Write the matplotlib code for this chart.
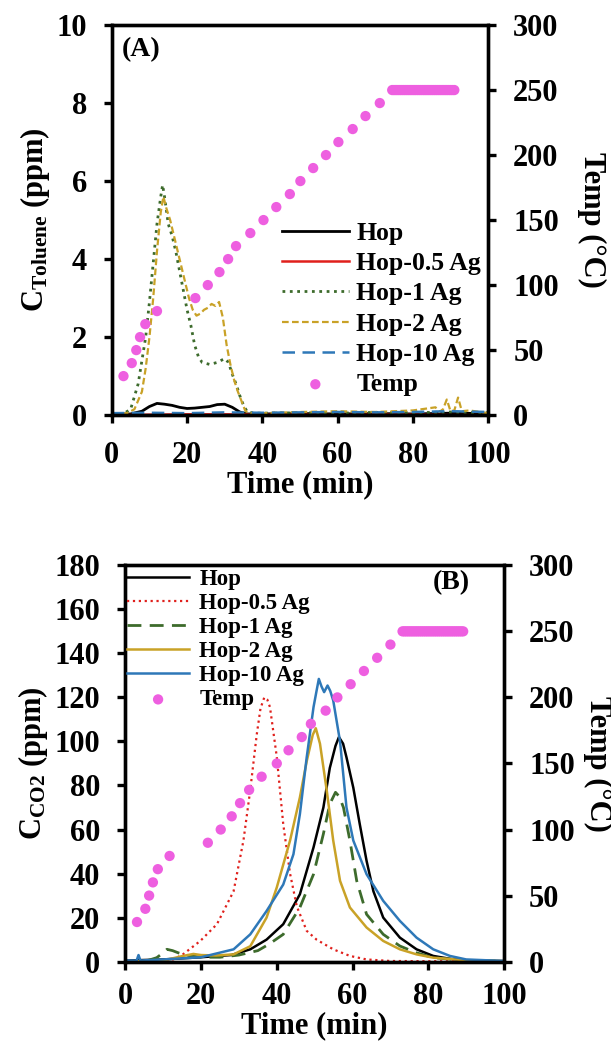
import matplotlib
matplotlib.use("Agg")
import matplotlib.pyplot as plt

plt.rcParams['font.family'] = ['Liberation Serif', 'DejaVu Serif']
plt.rcParams['font.weight'] = 'bold'
plt.rcParams['mathtext.fontset'] = 'custom'
plt.rcParams['mathtext.rm'] = 'Liberation Serif:bold'
plt.rcParams['mathtext.bf'] = 'Liberation Serif:bold'
plt.rcParams['mathtext.it'] = 'Liberation Serif:bold'

# ---------------- panel A : toluene ----------------
tA_hop = [0, 5, 8, 10, 12, 14, 16, 18, 20, 22, 24, 26, 28, 30, 32, 34, 36, 40, 50, 60, 70, 80, 90, 100]
cA_hop = [0.02, 0.03, 0.1, 0.22, 0.3, 0.28, 0.25, 0.2, 0.17, 0.18, 0.2, 0.22, 0.27, 0.28, 0.2, 0.08,
          0.03, 0.03, 0.04, 0.03, 0.04, 0.03, 0.05, 0.04]
tA_05 = [0, 10, 20, 30, 40, 50, 60, 70, 80, 90, 100]
cA_05 = [0.0, 0.01, 0.02, 0.02, 0.01, 0.01, 0.0, 0.01, 0.01, 0.0, 0.0]
tA_1 = [0, 3, 5, 7, 9, 10, 11, 12, 13, 13.5, 14, 15, 16, 17, 18, 19, 20, 21, 22, 23, 24, 26, 28,
        29, 30, 31, 32, 33, 34, 35, 36, 38, 40, 50, 60, 70, 80, 90, 100]
cA_1 = [0.02, 0.03, 0.15, 0.8, 2.0, 2.9, 3.9, 4.9, 5.6, 5.9, 5.6, 4.9, 4.6, 4.2, 3.7, 3.2, 2.7, 2.3,
        1.8, 1.5, 1.35, 1.3, 1.35, 1.4, 1.45, 1.35, 1.05, 0.8, 0.5, 0.25, 0.08, 0.05, 0.05, 0.06,
        0.05, 0.07, 0.06, 0.08, 0.06]
tA_2 = [0, 4, 6, 8, 9, 10, 11, 12, 13, 13.7, 14.5, 15.5, 16.5, 17.5, 18.5, 19.5, 20.5, 21.5, 22.5,
        23.5, 24.5, 25.5, 26.5, 27.5, 28.5, 29.5, 30.5, 31.5, 32.5, 33.5, 34.5, 35.5, 37, 40, 50,
        60, 70, 80, 86, 87, 88, 89, 90, 91, 92, 93, 95, 100]
cA_2 = [0.03, 0.05, 0.15, 0.6, 1.2, 2.0, 3.0, 4.2, 5.2, 5.6, 5.3, 5.0, 4.6, 4.2, 3.8, 3.4, 3.0, 2.7,
        2.55, 2.6, 2.7, 2.75, 2.85, 2.8, 2.9, 2.5, 1.8, 1.3, 0.9, 0.6, 0.35, 0.1, 0.05, 0.05, 0.08,
        0.1, 0.08, 0.12, 0.2, 0.08, 0.15, 0.4, 0.1, 0.12, 0.45, 0.1, 0.12, 0.05]
tA_10 = [0, 10, 20, 30, 40, 50, 60, 70, 80, 90, 100]
cA_10 = [0.05, 0.06, 0.05, 0.07, 0.06, 0.07, 0.08, 0.07, 0.08, 0.1, 0.08]

tempA_t = [3.1, 5.3, 6.5, 7.5, 8.9, 12, 22.2, 25.5, 28.6, 30.9, 33, 36.8, 40.3, 43.7, 47.3, 50.1,
           53.5, 56.9, 60.2, 64, 67.4, 71.2,
           74.5, 75, 75.5, 76, 76.5, 77, 77.5, 78, 78.5, 79, 79.5, 80, 80.5, 81, 81.5, 82, 82.5,
           83, 83.5, 84, 84.5, 85, 85.5, 86, 86.5, 87, 87.5, 88, 88.5, 89, 89.5, 90, 90.5, 91]
tempA_T = [30, 40, 50, 60, 70, 80, 90, 100, 110, 120, 130, 140, 150, 160, 170, 180, 190, 200, 210,
           220, 230, 240] + [250] * 34

# ---------------- panel B : CO2 ----------------
tB_hop = [0, 10, 20, 28, 33, 37.3, 41.7, 46.1, 49.7, 52.3, 54, 55.5, 56.4, 57.5, 58.4, 60.2, 61.9,
          63.7, 65.5, 68.1, 72.5, 76.9, 81.3, 86, 90, 100]
cB_hop = [0.5, 1, 2, 3, 5.6, 10, 17, 30.6, 51.9, 70, 88, 98, 102, 99, 92.8, 79, 62.5, 45.8, 32,
          20, 10.9, 5.6, 2.6, 1.2, 0.6, 0.3]
tB_05 = [0, 10, 12, 15, 19.8, 24.2, 28.6, 31.2, 33, 34.7, 35.7, 36.7, 37.5, 38.2, 40, 41.7, 43.5,
         45.3, 47.9, 50.5, 54.9, 59.3, 63.7, 70, 100]
cB_05 = [0, 0, 0.5, 3, 9.4, 17, 32, 55, 78, 103, 115, 120, 119, 115.6, 93, 62.5, 40, 25, 14, 10,
         5.6, 2.6, 1, 0.3, 0]
tB_1 = [0, 5, 8.3, 10, 11, 12.5, 14, 16, 20, 25, 30, 35, 38, 41.7, 46.1, 49.7, 52.3, 54, 55.5,
        56.5, 57.6, 59.3, 61.1, 63.7, 68.1, 72.5, 76.9, 81.3, 90, 100]
cB_1 = [0, 0, 1.8, 4, 5.6, 5, 4, 3, 2, 2, 3, 5, 8, 12.4, 24.6, 39.7, 58, 71.6, 76.9, 75, 70, 55,
        36.7, 21.5, 12.4, 7.1, 4, 1.8, 0.5, 0.2]
tB_2 = [0, 10, 15, 18, 20, 24, 28.6, 33, 37.3, 40, 43.5, 46.1, 47.9, 49.5, 50.3, 51.4, 53.2, 54.9,
        56.7, 59.3, 63.7, 68.1, 72.5, 76.9, 81.3, 90, 100]
cB_2 = [0, 0.5, 2.5, 3.5, 3, 2.8, 3.3, 7, 20, 33.7, 55, 74.6, 91, 103, 106, 99, 77.6, 55, 36.7,
        24.6, 15.5, 9.4, 5.6, 3.3, 1.8, 0.6, 0.2]
tB_10 = [0, 3, 3.5, 4, 10, 20, 28.6, 33, 37.3, 41.7, 44.4, 46.1, 47.9, 49.7, 50.5, 51.1, 51.8,
         52.5, 53.4, 54.1, 54.9, 56.7, 58.4, 60.2, 63.7, 68.1, 72.5, 76.9, 81.3, 85.7, 90, 100]
cB_10 = [0.5, 0.5, 3, 0.5, 1, 2, 5.6, 12.4, 23, 35, 48.8, 67, 92.8, 115.6, 123, 128.4, 125, 122.4,
         125.4, 123, 118.6, 100, 70, 55, 39.7, 27.6, 18.5, 10.9, 5.6, 2.6, 1, 0.3]

tempB_t = [3.1, 5.3, 6.3, 7.3, 8.6, 11.7, 21.8, 25.2, 28.1, 30.3, 32.7, 36, 40, 43.1, 46.6, 49,
           52.9, 56, 59.5, 63, 66.5, 70,
           73.2, 73.7, 74.2, 74.7, 75.2, 75.7, 76.2, 76.7, 77.2, 77.7, 78.2, 78.7, 79.2, 79.7,
           80.2, 80.7, 81.2, 81.7, 82.2, 82.7, 83.2, 83.7, 84.2, 84.7, 85.2, 85.7, 86.2, 86.7,
           87.2, 87.7, 88.2, 88.7, 89.2]
tempB_T = [30, 40, 50, 60, 70, 80, 90, 100, 110, 120, 130, 140, 150, 160, 170, 180, 190, 200, 210,
           220, 230, 240] + [250] * 33

labels = ["Hop", "Hop-0.5 Ag", "Hop-1 Ag", "Hop-2 Ag", "Hop-10 Ag"]
c_black = "black"
c_red = "#e0201c"
c_green = "#3d6b2c"
c_gold = "#c9a227"
c_blue = "#2e78b8"
c_pink = "#ee5fe0"

FS = 22


def style_axes(ax, ax2, ymax, ystep, rpad, xtick_pad, xpad):
    ax.set_xlim(0, 100)
    ax.set_ylim(0, ymax)
    ax.set_xticks(range(0, 101, 20))
    ax.set_yticks(range(0, ymax + 1, ystep))
    ax2.set_ylim(0, 300)
    ax2.set_yticks(range(0, 301, 50))
    for a in (ax, ax2):
        for s in a.spines.values():
            s.set_linewidth(2.4)
        a.tick_params(direction='out', length=6, width=2.4, labelsize=FS, pad=12)
    ax.tick_params(axis='x', pad=xtick_pad)
    ax.set_xlabel("Time (min)", fontsize=FS, fontweight='bold', labelpad=xpad)
    ax2.set_ylabel("Temp (°C)", fontsize=FS, fontweight='bold', rotation=270, labelpad=rpad)


fig = plt.figure(figsize=(6.11, 10.43), dpi=100)

# panel A
ax = fig.add_axes([0.183, 0.602, 0.616, 0.374])
ax2 = ax.twinx()
ax.plot(tA_hop, cA_hop, color=c_black, lw=2.0, label=labels[0])
ax.plot(tA_05, cA_05, color=c_red, lw=1.8, label=labels[1])
ax.plot(tA_1, cA_1, color=c_green, lw=2.0, ls=':', label=labels[2])
ax.plot(tA_2, cA_2, color=c_gold, lw=1.6, ls=(0, (3, 1.5)), label=labels[3])
ax.plot(tA_10, cA_10, color=c_blue, lw=1.8, ls=(0, (5, 3)), label=labels[4])
ax2.scatter(tempA_t, tempA_T, s=55, color=c_pink, edgecolors='none', label="Temp", zorder=3)
style_axes(ax, ax2, 10, 2, 34, 12.5, 0)
ax.set_ylabel(r"C$_{\mathrm{Toluene}}$ (ppm)", fontsize=FS, fontweight='bold', labelpad=3)
ax.text(0.027, 0.936, "(A)", transform=ax.transAxes, fontsize=20, fontweight='bold', va='center')
h1, l1 = ax.get_legend_handles_labels()
h2, l2 = ax2.get_legend_handles_labels()
ax2.legend(h1 + h2, l1 + l2, loc='upper left', bbox_to_anchor=(0.452, 0.495), frameon=False,
           handlelength=2.6, labelspacing=0.28, handletextpad=0.3, borderpad=0, borderaxespad=0,
           prop={'family': 'Liberation Serif', 'weight': 'bold', 'size': 18.5})

# panel B
bx = fig.add_axes([0.205, 0.078, 0.620, 0.380])
bx2 = bx.twinx()
bx.plot(tB_hop, cB_hop, color=c_black, lw=1.8, label=labels[0])
bx.plot(tB_05, cB_05, color=c_red, lw=1.6, ls=':', label=labels[1])
bx.plot(tB_1, cB_1, color=c_green, lw=2.0, ls=(0, (5, 3)), label=labels[2])
bx.plot(tB_2, cB_2, color=c_gold, lw=1.8, label=labels[3])
bx.plot(tB_10, cB_10, color=c_blue, lw=1.8, label=labels[4])
bx2.scatter(tempB_t, tempB_T, s=55, color=c_pink, edgecolors='none', label="Temp", zorder=3)
style_axes(bx, bx2, 180, 20, 27, 9, -0.5)
bx.set_ylabel(r"C$_{\mathrm{CO2}}$ (ppm)", fontsize=FS, fontweight='bold', labelpad=3)
bx.text(0.813, 0.957, "(B)", transform=bx.transAxes, fontsize=20, fontweight='bold', va='center')
h1, l1 = bx.get_legend_handles_labels()
h2, l2 = bx2.get_legend_handles_labels()
bx2.legend(h1 + h2, l1 + l2, loc='upper left', bbox_to_anchor=(0.005, 0.99), frameon=False,
           handlelength=2.7, labelspacing=0.13, handletextpad=0.45, borderpad=0, borderaxespad=0,
           prop={'family': 'Liberation Serif', 'weight': 'bold', 'size': 16.5})

fig.savefig("out.png", dpi=100)
